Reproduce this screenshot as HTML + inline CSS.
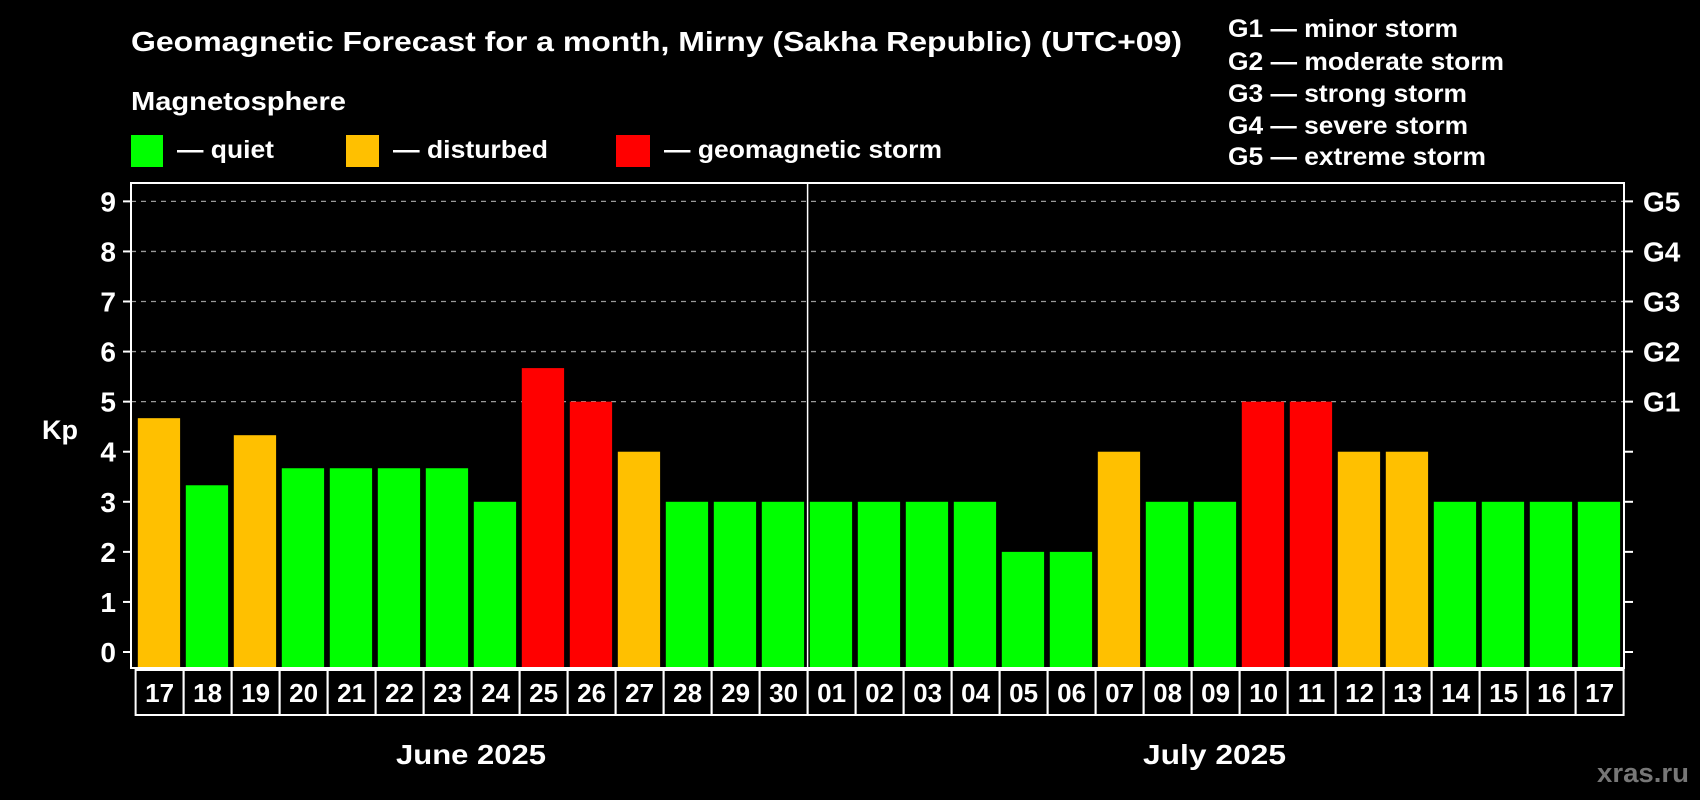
<!DOCTYPE html>
<html><head><meta charset="utf-8"><style>
html,body{margin:0;padding:0;background:#000;}
svg{display:block;font-family:"Liberation Sans",Arial,sans-serif;font-weight:bold;}
</style></head><body>
<svg id="chart" width="1700" height="800" viewBox="0 0 1700 800">
<rect width="1700" height="800" fill="#000"/>
<text x="131" y="51" fill="#fff" font-size="28" textLength="1051" lengthAdjust="spacingAndGlyphs">Geomagnetic Forecast for a month, Mirny (Sakha Republic) (UTC+09)</text>
<text x="131" y="110" fill="#fff" font-size="26" textLength="215" lengthAdjust="spacingAndGlyphs">Magnetosphere</text>
<g><rect x="131" y="135" width="32" height="32" fill="#00ff00"/><text x="177" y="158" fill="#fff" font-size="25" textLength="97" lengthAdjust="spacingAndGlyphs">— quiet</text></g>
<g><rect x="346" y="135" width="33" height="32" fill="#ffc000"/><text x="393" y="158" fill="#fff" font-size="25" textLength="155" lengthAdjust="spacingAndGlyphs">— disturbed</text></g>
<g><rect x="616" y="135" width="34" height="32" fill="#ff0000"/><text x="664" y="158" fill="#fff" font-size="25" textLength="278" lengthAdjust="spacingAndGlyphs">— geomagnetic storm</text></g>
<g font-size="25" fill="#fff">
<text x="1228" y="37" textLength="230" lengthAdjust="spacingAndGlyphs">G1 — minor storm</text>
<text x="1228" y="70" textLength="276" lengthAdjust="spacingAndGlyphs">G2 — moderate storm</text>
<text x="1228" y="102" textLength="239" lengthAdjust="spacingAndGlyphs">G3 — strong storm</text>
<text x="1228" y="134" textLength="240" lengthAdjust="spacingAndGlyphs">G4 — severe storm</text>
<text x="1228" y="165" textLength="258" lengthAdjust="spacingAndGlyphs">G5 — extreme storm</text>
</g>
<text x="42" y="439" fill="#fff" font-size="27">Kp</text>
<text x="396" y="764" fill="#fff" font-size="28" textLength="150" lengthAdjust="spacingAndGlyphs">June 2025</text>
<text x="1143" y="764" fill="#fff" font-size="28" textLength="143" lengthAdjust="spacingAndGlyphs">July 2025</text>
<text x="1597" y="782" fill="#777" font-size="27" textLength="92" lengthAdjust="spacingAndGlyphs">xras.ru</text>
<g id="plot"></g>
</svg>
<script>
const days = ["17","18","19","20","21","22","23","24","25","26","27","28","29","30","01","02","03","04","05","06","07","08","09","10","11","12","13","14","15","16","17"];
const kpValues = [4.67,3.33,4.33,3.67,3.67,3.67,3.67,3,5.67,5,4,3,3,3,3,3,3,3,2,2,4,3,3,5,5,4,4,3,3,3,3];
const yTicks = [0,1,2,3,4,5,6,7,8,9];
const gLabels = ["","","","","","G1","G2","G3","G4","G5"];
const NS="http://www.w3.org/2000/svg";
const plot=document.getElementById('plot');
const pLeft=131,pRight=1624,pTop=183,pBottom=668,x0=135.6,step=48;
const yScale=v=>652-v*50.07;
const xScale=i=>x0+i*step;
function mk(tag,attrs,parent){const e=document.createElementNS(NS,tag);for(const k in attrs)e.setAttribute(k,attrs[k]);(parent||plot).appendChild(e);return e;}
yTicks.forEach((t,i)=>{
  if(t>=5){const g=mk('line',{x1:pLeft,x2:pRight,y1:yScale(t),y2:yScale(t),stroke:'#999','stroke-width':1.3,'stroke-dasharray':'5,5'});
  
  }
  const tl=mk('line',{x1:pLeft-8,x2:pLeft,y1:yScale(t),y2:yScale(t),stroke:'#fff','stroke-width':2});
  
  
  const tr=mk('line',{x1:pRight,x2:pRight+9,y1:yScale(t),y2:yScale(t),stroke:'#fff','stroke-width':2});
  
  
  const lb=mk('text',{x:pLeft-15,y:yScale(t)+10,fill:'#fff','font-size':28,'text-anchor':'end'});lb.textContent=t;
  
  
  if(gLabels[i]){const g=mk('text',{x:1643,y:yScale(t)+10,fill:'#fff','font-size':28});g.textContent=gLabels[i];
  
  }
});
kpValues.forEach((v,i)=>{
  const c=v>=5?'#ff0000':(v>=4?'#ffc000':'#00ff00');
  const b=mk('rect',{x:xScale(i)+2.2,y:yScale(v),width:42.3,height:pBottom-yScale(v),fill:c});
  
  
  const box=mk('rect',{x:xScale(i),y:670,width:step,height:45,fill:'none',stroke:'#fff','stroke-width':2});
  
  
  const t=mk('text',{x:xScale(i)+step/2,y:702,fill:'#fff','font-size':26,'text-anchor':'middle'});t.textContent=days[i];
  
  
});
const fr=mk('rect',{x:pLeft,y:pTop,width:pRight-pLeft,height:pBottom-pTop,fill:'none',stroke:'#fff','stroke-width':2});


const dv=mk('line',{x1:xScale(14),x2:xScale(14),y1:pTop,y2:pBottom,stroke:'#fff','stroke-width':1.5});


</script>
</body></html>
